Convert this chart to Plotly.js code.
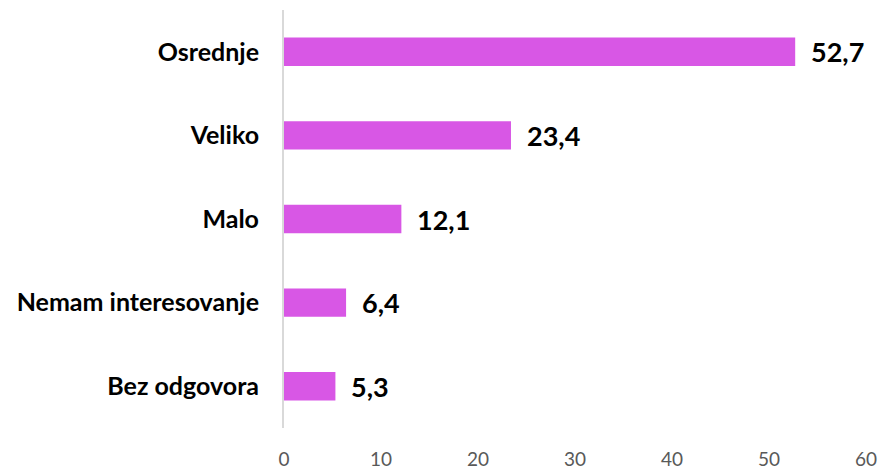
<!DOCTYPE html>
<html>
<head>
<meta charset="utf-8">
<script src="https://cdn.plot.ly/plotly-3.0.1.min.js"></script>
<style>html,body{margin:0;padding:0;background:#fff;}#chart{width:882px;height:471px;}</style>
</head>
<body>
<div id="chart"></div>
<script>
const categories = ["Osrednje", "Veliko", "Malo", "Nemam interesovanje", "Bez odgovora"];
const values = [52.7, 23.4, 12.1, 6.4, 5.3];
const valueLabels = ["52,7", "23,4", "12,1", "6,4", "5,3"];
const xTicks = [0, 10, 20, 30, 40, 50, 60];

const fontFamily = "Lato, 'Open Sans', sans-serif";

const trace = {
  type: "bar",
  orientation: "h",
  x: values,
  y: categories,
  marker: { color: "#D857E5" },
  hoverinfo: "none"
};

const annotations = categories.map((c, i) => ({
  x: values[i],
  y: c,
  xref: "x",
  yref: "y",
  text: "<b>" + valueLabels[i] + "</b>",
  showarrow: false,
  xanchor: "left",
  yanchor: "middle",
  xshift: 14,
  font: { family: fontFamily, size: 27, color: "#000000" }
}));

const layout = {
  width: 882,
  height: 471,
  margin: { l: 284, r: 16, t: 10, b: 43 },
  paper_bgcolor: "#ffffff",
  plot_bgcolor: "#ffffff",
  showlegend: false,
  bargap: 0.66,
  xaxis: {
    range: [0, 60],
    tickvals: xTicks,
    ticktext: xTicks.map(String),
    showgrid: false,
    zeroline: false,
    showline: false,
    ticks: "",
    ticklabelstandoff: 18,
    tickfont: { family: fontFamily, size: 19, color: "#595959" },
    fixedrange: true
  },
  yaxis: {
    categoryorder: "array",
    categoryarray: categories.slice().reverse(),
    showgrid: false,
    zeroline: false,
    showline: true,
    linecolor: "#D9D9D9",
    linewidth: 2,
    ticks: "",
    ticklabelstandoff: 18,
    tickfont: { family: fontFamily, size: 25, color: "#000000", weight: "bold" },
    fixedrange: true
  },
  annotations: annotations
};

Plotly.newPlot("chart", [trace], layout, { displayModeBar: false, staticPlot: true });
</script>
</body>
</html>
